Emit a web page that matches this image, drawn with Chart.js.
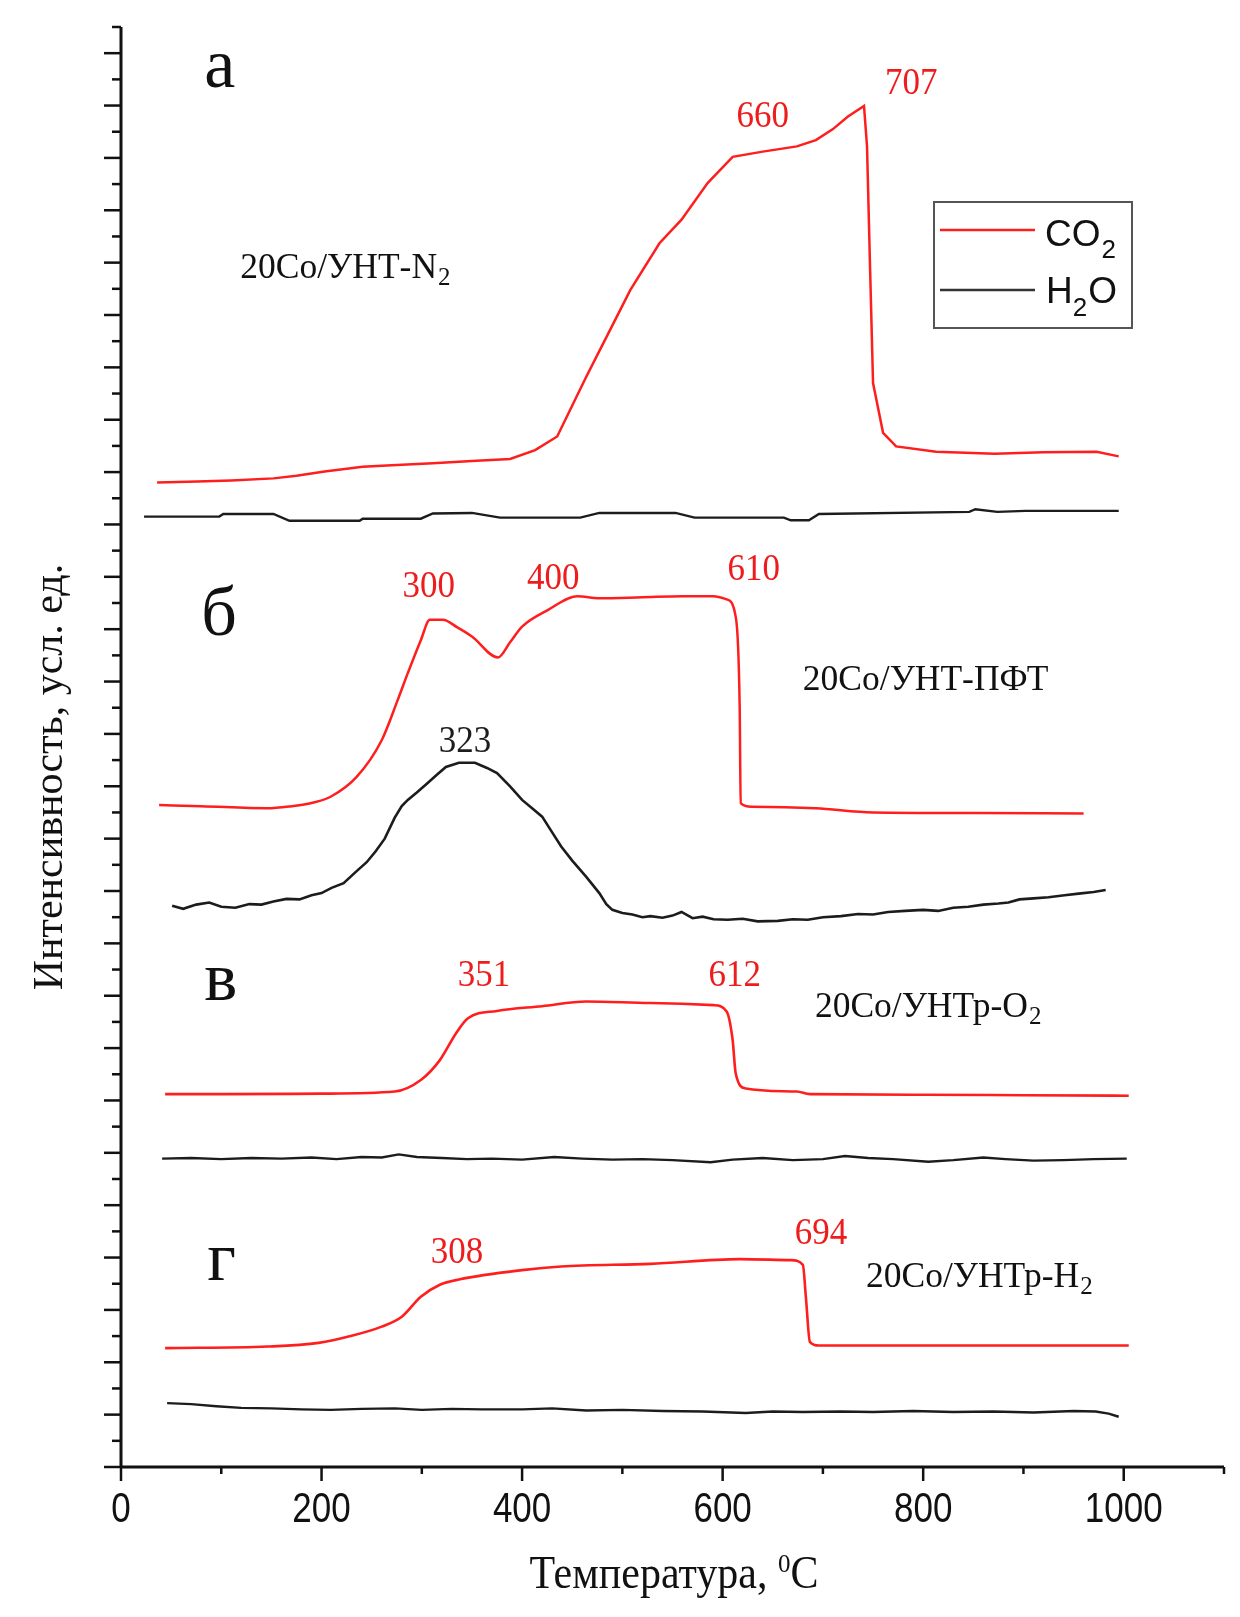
<!DOCTYPE html>
<html>
<head>
<meta charset="utf-8">
<script src="https://cdn.jsdelivr.net/npm/chart.js@4.4.1/dist/chart.umd.min.js"></script>
<style>
  html, body { margin: 0; padding: 0; background: #fff; }
  canvas { display: block; }
</style>
</head>
<body>
<canvas id="tpo" width="1240" height="1617"></canvas>
<script>
// axis tick values
const xTickLabels = [0, 200, 400, 600, 800, 1000];
const xMinorTicks = [100, 300, 500, 700, 900, 1100];
const X_MAX = 1100;
const Y_MAX = 27.5;

// panel а (20Co/УНТ-N2)
const tCo2A = [36, 76, 110, 152, 175, 203, 241, 270, 311, 350, 388, 413, 435, 451, 464, 486, 508, 537, 559, 585, 610, 640, 674, 693, 710, 725, 741, 744, 747, 750, 760, 773, 813, 871, 920, 973, 995];
const co2A  = [18.80, 18.82, 18.84, 18.88, 18.93, 19.01, 19.10, 19.13, 19.17, 19.21, 19.25, 19.42, 19.68, 20.31, 20.82, 21.65, 22.48, 23.37, 23.82, 24.52, 25.02, 25.12, 25.22, 25.34, 25.55, 25.79, 25.99, 25.22, 22.92, 20.70, 19.75, 19.49, 19.39, 19.35, 19.38, 19.39, 19.30];
const tH2oA = [23, 98, 102, 152, 168, 238, 241, 299, 311, 350, 378, 458, 477, 553, 572, 661, 668, 686, 696, 846, 852, 874, 902, 995];
const h2oA  = [18.15, 18.15, 18.20, 18.20, 18.07, 18.07, 18.11, 18.11, 18.21, 18.22, 18.13, 18.13, 18.22, 18.22, 18.13, 18.13, 18.08, 18.08, 18.20, 18.24, 18.29, 18.24, 18.26, 18.26];

// panel б (20Co/УНТ-ПФТ)
const tCo2B = [38, 80, 146, 170, 190, 209, 235, 260, 276, 286, 299, 308, 321, 335, 350, 376, 388, 400, 426, 455, 477, 520, 560, 591, 604, 613, 617, 618, 629, 693, 750, 850, 960];
const co2B  = [12.64, 12.62, 12.58, 12.62, 12.68, 12.80, 13.18, 13.88, 14.65, 15.16, 15.79, 16.18, 16.18, 16.04, 15.86, 15.46, 15.75, 16.05, 16.37, 16.63, 16.59, 16.61, 16.63, 16.63, 16.57, 16.24, 14.52, 12.68, 12.61, 12.58, 12.50, 12.49, 12.48];
const tH2oB = [51, 62, 75, 88, 100, 114, 128, 140, 152, 165, 178, 190, 200, 210, 222, 235, 245, 254, 263, 273, 280, 286, 295, 305, 315, 324, 337, 353, 365, 375, 388, 400, 410, 420, 430, 439, 450, 464, 477, 484, 490, 500, 510, 520, 528, 540, 550, 559, 570, 580, 591, 605, 620, 635, 655, 670, 685, 700, 718, 735, 750, 765, 782, 800, 815, 830, 845, 860, 875, 885, 896, 910, 925, 941, 955, 970, 982];
const h2oB  = [10.72, 10.66, 10.74, 10.78, 10.70, 10.68, 10.75, 10.74, 10.80, 10.85, 10.84, 10.92, 10.96, 11.06, 11.15, 11.38, 11.55, 11.76, 12.00, 12.40, 12.62, 12.74, 12.88, 13.05, 13.22, 13.37, 13.45, 13.45, 13.35, 13.25, 13.00, 12.74, 12.58, 12.42, 12.12, 11.85, 11.58, 11.27, 10.96, 10.75, 10.64, 10.58, 10.55, 10.50, 10.52, 10.49, 10.53, 10.60, 10.48, 10.51, 10.46, 10.45, 10.47, 10.42, 10.43, 10.46, 10.45, 10.50, 10.52, 10.56, 10.55, 10.60, 10.62, 10.64, 10.62, 10.68, 10.70, 10.74, 10.76, 10.78, 10.84, 10.86, 10.88, 10.92, 10.95, 10.98, 11.02];

// panel в (20Co/УНТр-O2)
const tCo2C = [44, 100, 200, 273, 299, 318, 334, 346, 375, 420, 464, 528, 591, 604, 610, 613, 623, 674, 687, 800, 900, 1005];
const co2C  = [7.12, 7.12, 7.13, 7.17, 7.39, 7.77, 8.28, 8.57, 8.71, 8.80, 8.89, 8.86, 8.82, 8.70, 8.15, 7.52, 7.23, 7.17, 7.12, 7.11, 7.10, 7.09];
const tH2oC = [41, 70, 100, 130, 160, 190, 215, 240, 260, 277, 295, 320, 345, 370, 400, 432, 460, 490, 520, 550, 588, 610, 640, 670, 700, 722, 745, 770, 805, 830, 860, 882, 910, 940, 970, 1003];
const h2oC  = [5.89, 5.90, 5.88, 5.90, 5.89, 5.91, 5.88, 5.92, 5.91, 5.97, 5.92, 5.90, 5.88, 5.89, 5.87, 5.92, 5.89, 5.87, 5.88, 5.86, 5.82, 5.87, 5.90, 5.86, 5.88, 5.94, 5.90, 5.88, 5.83, 5.86, 5.91, 5.88, 5.85, 5.86, 5.88, 5.89];

// panel г (20Co/УНТр-H2)
const tCo2D = [44, 146, 197, 229, 260, 280, 299, 318, 337, 400, 439, 528, 617, 668, 680, 683, 687, 696, 850, 1005];
const co2D  = [2.27, 2.30, 2.37, 2.50, 2.68, 2.87, 3.25, 3.48, 3.58, 3.76, 3.83, 3.88, 3.97, 3.95, 3.86, 3.25, 2.39, 2.32, 2.32, 2.32];
const tH2oD = [46, 70, 95, 120, 150, 180, 209, 240, 273, 300, 330, 360, 400, 430, 464, 500, 540, 580, 623, 650, 680, 718, 750, 790, 830, 870, 910, 950, 972, 985, 995];
const h2oD  = [1.22, 1.20, 1.16, 1.13, 1.12, 1.10, 1.09, 1.11, 1.12, 1.09, 1.11, 1.10, 1.10, 1.12, 1.08, 1.09, 1.07, 1.06, 1.03, 1.06, 1.05, 1.06, 1.05, 1.07, 1.05, 1.06, 1.04, 1.07, 1.06, 1.02, 0.96];

const RED = "#ff1e1e";
const RED_TEXT = "#ee1c1c";
const BLACK = "#1c1c1c";
const SERIF = "'Liberation Serif', 'Times New Roman', serif";
const SANS = "'Liberation Sans', Arial, sans-serif";

// annotation placement (data coordinates)
const peakLabels = [
  { text: "660", x: 640, y: 25.78, color: RED_TEXT },
  { text: "707", x: 788, y: 26.41, color: RED_TEXT },
  { text: "300", x: 307, y: 16.81, color: RED_TEXT },
  { text: "400", x: 431, y: 16.96, color: RED_TEXT },
  { text: "610", x: 631, y: 17.13, color: RED_TEXT },
  { text: "323", x: 343, y: 13.84, color: BLACK },
  { text: "351", x: 362, y: 9.38, color: RED_TEXT },
  { text: "612", x: 612, y: 9.38, color: RED_TEXT },
  { text: "308", x: 335, y: 4.09, color: RED_TEXT },
  { text: "694", x: 698, y: 4.45, color: RED_TEXT },
];
const panelLetters = [
  { text: "а", x: 83, y: 26.36 },
  { text: "б", x: 80, y: 15.89 },
  { text: "в", x: 83, y: 8.92 },
  { text: "г", x: 86, y: 3.57 },
];
const sampleLabels = [
  { main: "20Co/УНТ-N", sub: "2", x: 119, y: 22.71 },
  { main: "20Co/УНТ-ПФТ", sub: "", x: 680, y: 14.84 },
  { main: "20Co/УНТр-O", sub: "2", x: 692, y: 8.60 },
  { main: "20Co/УНТр-H", sub: "2", x: 743, y: 3.44 },
];

function pts(xs, ys) { return xs.map((x, i) => ({ x, y: ys[i] })); }

function series(label, xs, ys, color, width, smooth) {
  return {
    label,
    data: pts(xs, ys),
    borderColor: color,
    borderWidth: width,
    pointRadius: 0,
    fill: false,
    cubicInterpolationMode: smooth ? "monotone" : "default",
    tension: 0,
  };
}

function txt(ctx, s, x, y, font, color, align, baseline, sy) {
  ctx.save();
  ctx.font = font;
  ctx.fillStyle = color;
  ctx.textAlign = align || "left";
  ctx.textBaseline = baseline || "alphabetic";
  ctx.translate(x, y);
  ctx.scale(1, sy || 1);
  ctx.fillText(s, 0, 0);
  const w = ctx.measureText(s).width;
  ctx.restore();
  return w;
}

const frame = {
  id: "frame",
  afterDatasetsDraw(chart) {
    const { ctx } = chart;
    const xs = chart.scales.x, ys = chart.scales.y;
    const x0 = xs.getPixelForValue(0), y0 = ys.getPixelForValue(0);
    const xEnd = xs.getPixelForValue(X_MAX), yTop = ys.getPixelForValue(Y_MAX);
    const seg = (a, b, c, d) => { ctx.beginPath(); ctx.moveTo(a, b); ctx.lineTo(c, d); ctx.stroke(); };

    ctx.save();
    ctx.strokeStyle = "#111";
    ctx.lineWidth = 3;
    seg(x0, y0, xEnd, y0);
    seg(x0, y0, x0, yTop);

    // y ticks: major every 1, minor every 0.5, no labels
    ctx.lineWidth = 2.5;
    for (let i = 0; i <= Y_MAX * 2; i++) {
      const p = ys.getPixelForValue(i / 2);
      seg(x0 - (i % 2 === 0 ? 17 : 9), p, x0, p);
    }
    xTickLabels.forEach(v => { const p = xs.getPixelForValue(v); seg(p, y0, p, y0 + 14); });
    xMinorTicks.forEach(v => { const p = xs.getPixelForValue(v); seg(p, y0, p, y0 + 7); });
    ctx.restore();

    xTickLabels.forEach(v => {
      txt(ctx, String(v), xs.getPixelForValue(v), y0 + 43, "35px " + SANS, "#111", "center", "middle", 1.2);
    });

    // x title with superscript
    const fMain = "42px " + SERIF, fSup = "25px " + SERIF;
    ctx.save();
    ctx.font = fMain; const w1 = ctx.measureText("Температура, ").width; const w3 = ctx.measureText("C").width;
    ctx.font = fSup; const w2 = ctx.measureText("0").width;
    ctx.restore();
    let tx = 674 - (w1 + w2 + w3) / 2;
    const by = 1588;
    tx += txt(ctx, "Температура, ", tx, by, fMain, "#111", "left", "alphabetic", 1.08);
    tx += txt(ctx, "0", tx, by - 16, fSup, "#111");
    txt(ctx, "C", tx, by, fMain, "#111", "left", "alphabetic", 1.08);

    // y title
    ctx.save();
    ctx.translate(62, 777);
    ctx.rotate(-Math.PI / 2);
    txt(ctx, "Интенсивность, усл. ед.", 0, 0, "42px " + SERIF, "#111", "center", "alphabetic");
    ctx.restore();

    panelLetters.forEach(l => {
      txt(ctx, l.text, xs.getPixelForValue(l.x), ys.getPixelForValue(l.y), "70px " + SERIF, "#111");
    });
    peakLabels.forEach(l => {
      txt(ctx, l.text, xs.getPixelForValue(l.x), ys.getPixelForValue(l.y), "35px " + SERIF, l.color, "center", "middle", 1.08);
    });
    sampleLabels.forEach(l => {
      const px = xs.getPixelForValue(l.x), py = ys.getPixelForValue(l.y);
      const w = txt(ctx, l.main, px, py, "35.5px " + SERIF, "#111");
      if (l.sub) txt(ctx, l.sub, px + w + 1, py + 7, "25px " + SERIF, "#111");
    });

    // legend
    ctx.save();
    ctx.strokeStyle = "#555";
    ctx.lineWidth = 2;
    ctx.strokeRect(934, 202, 198, 126);
    ctx.strokeStyle = RED; ctx.lineWidth = 2.5;
    seg(940, 230, 1035, 230);
    ctx.strokeStyle = "#333"; ctx.lineWidth = 2.5;
    seg(940, 290, 1035, 290);
    ctx.restore();
    const fL = "37px " + SANS, fS = "26px " + SANS;
    let lx = 1045;
    lx += txt(ctx, "CO", lx, 246, fL, "#111");
    txt(ctx, "2", lx + 1, 258, fS, "#111");
    lx = 1046;
    lx += txt(ctx, "H", lx, 303, fL, "#111");
    lx += txt(ctx, "2", lx, 316, fS, "#111") + 1;
    txt(ctx, "O", lx, 303, fL, "#111");
  },
};

new Chart(document.getElementById("tpo"), {
  type: "line",
  data: {
    datasets: [
      series("CO2 а", tCo2A, co2A, RED, 2.5, false),
      series("H2O а", tH2oA, h2oA, BLACK, 2.4, false),
      series("CO2 б", tCo2B, co2B, RED, 2.5, true),
      series("H2O б", tH2oB, h2oB, BLACK, 2.6, false),
      series("CO2 в", tCo2C, co2C, RED, 2.6, true),
      series("H2O в", tH2oC, h2oC, BLACK, 2.4, false),
      series("CO2 г", tCo2D, co2D, RED, 2.6, true),
      series("H2O г", tH2oD, h2oD, BLACK, 2.4, false),
    ],
  },
  options: {
    responsive: false,
    animation: false,
    devicePixelRatio: 1,
    layout: { padding: { left: 121, right: 16, top: 27, bottom: 150 } },
    plugins: { legend: { display: false }, tooltip: { enabled: false } },
    scales: {
      x: { type: "linear", min: 0, max: X_MAX, display: false },
      y: { type: "linear", min: 0, max: Y_MAX, display: false },
    },
  },
  plugins: [frame],
});
</script>
</body>
</html>
